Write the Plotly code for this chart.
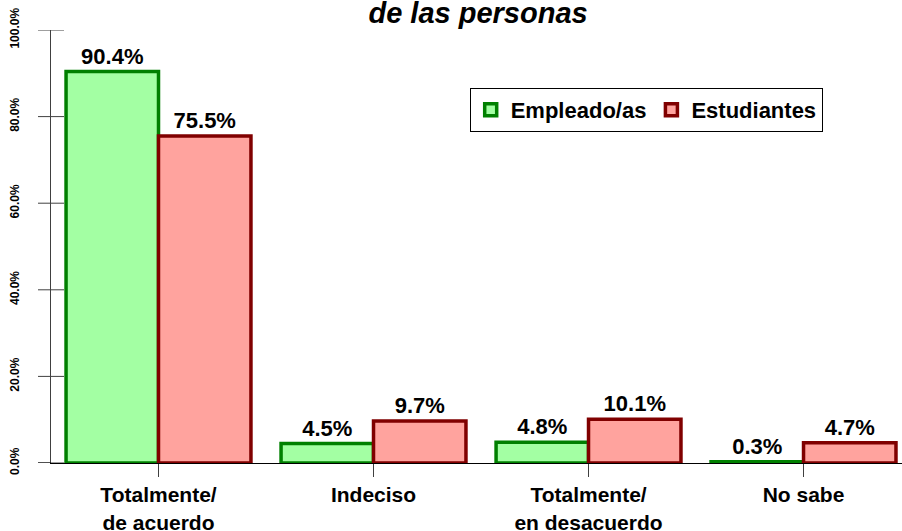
import plotly.graph_objects as go

# data
categories = ["Totalmente/<br>de acuerdo", "Indeciso", "Totalmente/<br>en desacuerdo", "No sabe"]
empleados = [90.4, 4.5, 4.8, 0.3]
estudiantes = [75.5, 9.7, 10.1, 4.7]
y_ticks = [0, 20, 40, 60, 80, 100]
y_tick_labels = [f"{v:.1f}%" for v in y_ticks]

font_family = "Liberation Sans, Arial, sans-serif"

fig = go.Figure()
fig.add_trace(go.Bar(
    x=categories, y=empleados, name="Empleado/as",
    marker=dict(color="#a3ffa3", line=dict(color="#008000", width=3.5)),
    text=[f"{v:.1f}%" for v in empleados], textposition="outside",
    textfont=dict(size=22, color="black", weight="bold"), cliponaxis=False,
))
fig.add_trace(go.Bar(
    x=categories, y=estudiantes, name="Estudiantes",
    marker=dict(color="#ffa39e", line=dict(color="#800000", width=3.5)),
    text=[f"{v:.1f}%" for v in estudiantes], textposition="outside",
    textfont=dict(size=22, color="black", weight="bold"), cliponaxis=False,
))

# crossing tick marks on the y axis, plus the short stub of the x axis left of it
shapes = [dict(type="line", xref="paper", xsizemode="pixel", xanchor=0, x0=-13, x1=13,
               yref="y", y0=v, y1=v, line=dict(color="#404040", width=1)) for v in y_ticks]
shapes.append(dict(type="line", xref="paper", xsizemode="pixel", xanchor=0, x0=-13, x1=0,
                   yref="y", y0=0, y1=0, line=dict(color="black", width=1)))

fig.update_layout(
    width=902, height=531,
    margin=dict(l=51, r=0, t=30, b=68),
    paper_bgcolor="white", plot_bgcolor="white",
    font=dict(family=font_family, color="black"),
    barmode="group", bargap=0.14, bargroupgap=0,
    title=dict(text="<i><b>de las personas</b></i>", x=0.53, xanchor="center",
               yref="container", y=0.975, yanchor="middle", font=dict(size=29)),
    xaxis=dict(range=[-0.5, 3.458], showline=True, linecolor="black", linewidth=1,
               ticks="outside", ticklen=13, tickcolor="#404040",
               tickfont=dict(size=21, weight="bold"), showgrid=False, automargin=False),
    yaxis=dict(range=[0, 100], tickvals=y_ticks, ticktext=y_tick_labels,
               tickangle=-90, ticks="", ticklabelstandoff=26,
               showline=True, linecolor="#404040", linewidth=1,
               tickfont=dict(size=12, weight="bold"), showgrid=False, zeroline=False,
               automargin=False),
    legend=dict(orientation="h", x=0.492, y=0.866, xanchor="left", yanchor="top",
                bordercolor="black", borderwidth=1, bgcolor="white",
                font=dict(size=22, weight="bold")),
    shapes=shapes,
)

# drop the default page margin so the figure sits at the window's corner
fig.write_html("out.html", config={"displayModeBar": False},
               post_script="document.body.style.margin='0';")
